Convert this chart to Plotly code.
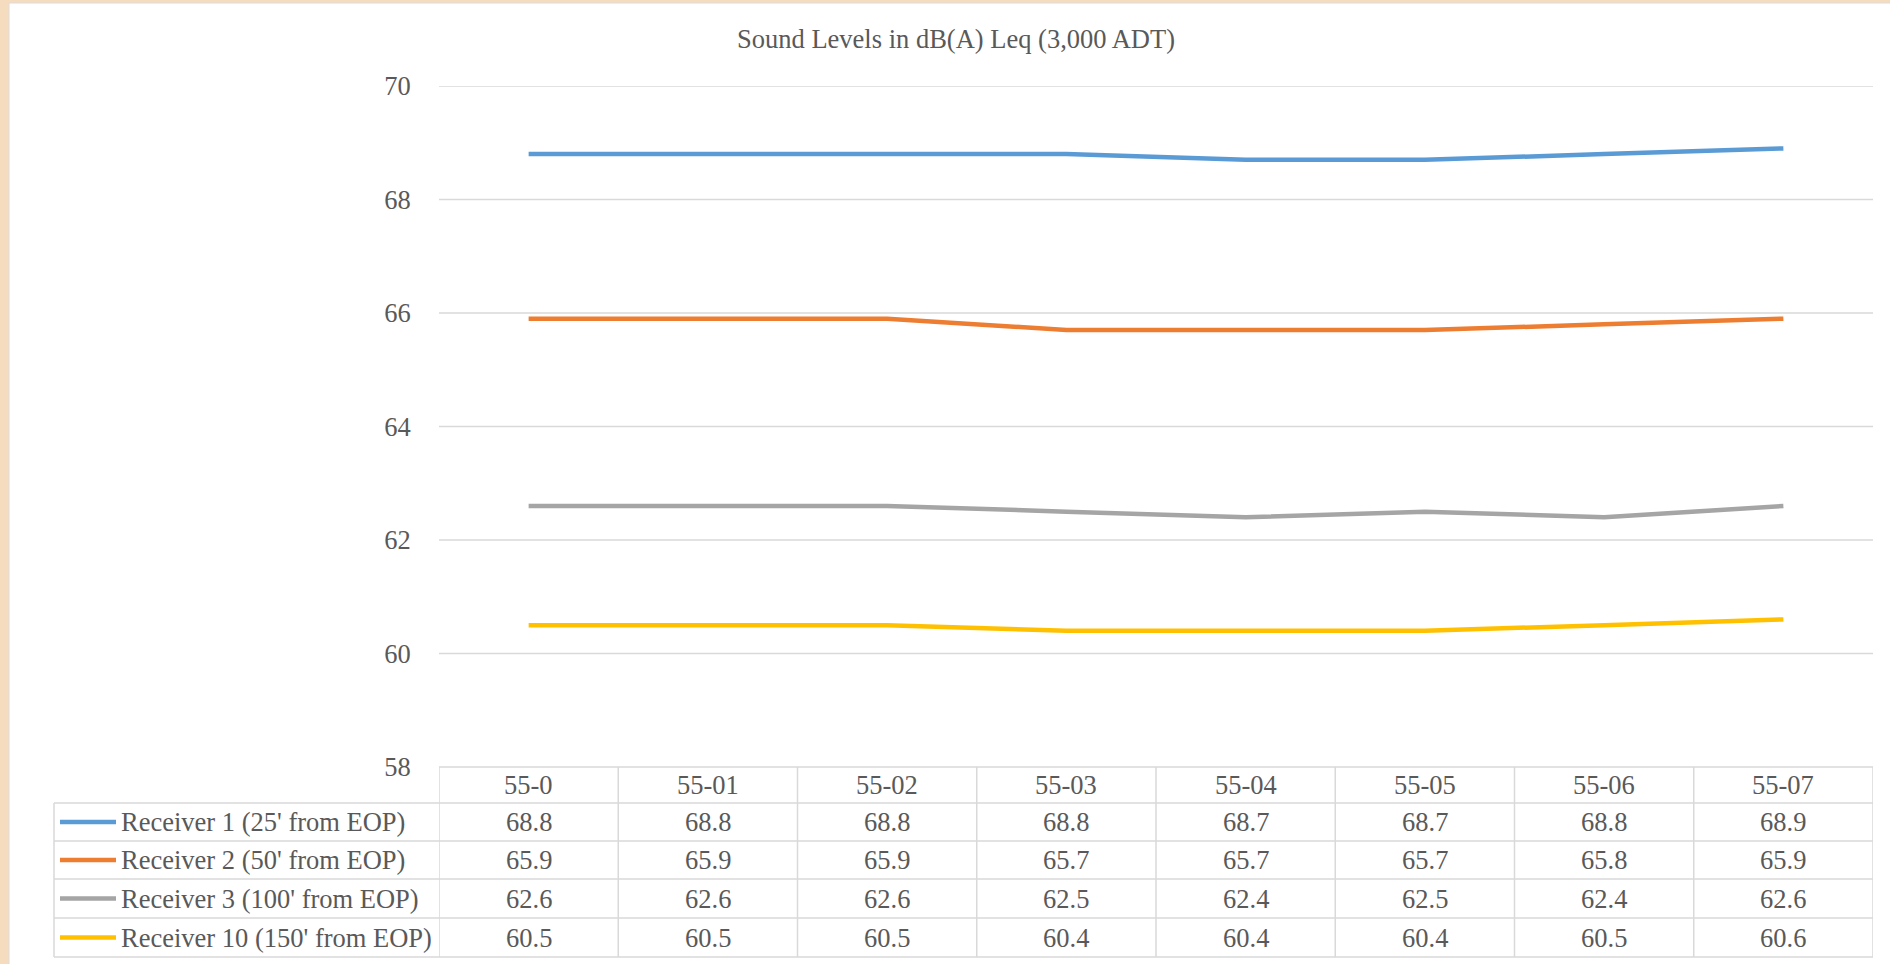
import plotly.graph_objects as go

# ---- data ----
categories = ["55-0", "55-01", "55-02", "55-03", "55-04", "55-05", "55-06", "55-07"]
series_names = [
    "Receiver 1 (25' from EOP)",
    "Receiver 2 (50' from EOP)",
    "Receiver 3 (100' from EOP)",
    "Receiver 10 (150' from EOP)",
]
receiver_1 = [68.8, 68.8, 68.8, 68.8, 68.7, 68.7, 68.8, 68.9]
receiver_2 = [65.9, 65.9, 65.9, 65.7, 65.7, 65.7, 65.8, 65.9]
receiver_3 = [62.6, 62.6, 62.6, 62.5, 62.4, 62.5, 62.4, 62.6]
receiver_10 = [60.5, 60.5, 60.5, 60.4, 60.4, 60.4, 60.5, 60.6]
series_values = [receiver_1, receiver_2, receiver_3, receiver_10]
y_ticks = [58, 60, 62, 64, 66, 68, 70]
title_text = "Sound Levels in dB(A) Leq (3,000 ADT)"

# ---- style ----
colors = ["#5B9BD5", "#ED7D31", "#A5A5A5", "#FFC000"]
W, H = 1890, 964
L, R, T, B = 439, 1873, 86, 767
TXT = "#595959"
GRID = "#D9D9D9"
BEIGE = "#F5DCBE"
FONT = "Liberation Serif, Times New Roman, serif"
FS = 26.5

def px_x(px):
    return (px - L) / (R - L)

def px_y(py):
    return (B - py) / (B - T)

row_lines = [B, 803, 841, 879, 918, 957]
legend_left = 54

fig = go.Figure()
for name, vals, col in zip(series_names, series_values, colors):
    fig.add_trace(go.Scatter(
        x=list(range(len(categories))), y=vals, mode="lines", name=name,
        line=dict(color=col, width=4.5), hoverinfo="skip", showlegend=False,
    ))

shapes = []
# beige page + white panel
shapes.append(dict(type="rect", xref="paper", yref="paper",
                   x0=px_x(9), x1=px_x(W + 5), y0=px_y(3), y1=px_y(H + 5),
                   fillcolor="white", line=dict(color="#DCDCDC", width=1), layer="below"))
# horizontal gridlines on the value axis
for v in y_ticks[1:]:
    shapes.append(dict(type="line", xref="paper", yref="y", x0=0, x1=1, y0=v, y1=v,
                       line=dict(color=GRID, width=1.5), layer="below"))

# horizontal table lines
for i, py in enumerate(row_lines):
    x0 = px_x(L) if i == 0 else px_x(legend_left)
    shapes.append(dict(type="line", xref="paper", yref="paper",
                       x0=x0, x1=px_x(R), y0=px_y(py), y1=px_y(py),
                       line=dict(color=GRID, width=1.5)))
# vertical table lines for data columns
for k in range(len(categories) + 1):
    shapes.append(dict(type="line", xref="x", yref="paper",
                       x0=k - 0.5, x1=k - 0.5, y0=px_y(B), y1=px_y(row_lines[-1]),
                       line=dict(color=GRID, width=1.5)))
# left edge of legend column
shapes.append(dict(type="line", xref="paper", yref="paper",
                   x0=px_x(legend_left), x1=px_x(legend_left),
                   y0=px_y(row_lines[1]), y1=px_y(row_lines[-1]),
                   line=dict(color=GRID, width=1.5)))

annotations = []
# header row
hdr_c = (row_lines[0] + row_lines[1]) / 2
for k, c in enumerate(categories):
    annotations.append(dict(x=k, xref="x", y=px_y(hdr_c), yref="paper", text=c,
                            showarrow=False, font=dict(family=FONT, size=FS, color=TXT),
                            xanchor="center", yanchor="middle"))
# data rows
for r, (name, vals, col) in enumerate(zip(series_names, series_values, colors)):
    yc = (row_lines[r + 1] + row_lines[r + 2]) / 2
    shapes.append(dict(type="line", xref="paper", yref="paper",
                       x0=px_x(60), x1=px_x(116), y0=px_y(yc), y1=px_y(yc),
                       line=dict(color=col, width=4.5)))
    annotations.append(dict(x=px_x(119), xref="paper", y=px_y(yc), yref="paper", text=name,
                            showarrow=False, font=dict(family=FONT, size=FS, color=TXT),
                            xanchor="left", yanchor="middle"))
    for k, v in enumerate(vals):
        annotations.append(dict(x=k, xref="x", y=px_y(yc), yref="paper", text=f"{v:.1f}",
                                showarrow=False, font=dict(family=FONT, size=FS, color=TXT),
                                xanchor="center", yanchor="middle"))

fig.update_layout(
    width=W, height=H,
    margin=dict(l=L, r=W - R, t=T, b=H - B, pad=0),
    paper_bgcolor=BEIGE, plot_bgcolor="white",
    title=dict(text=title_text, x=956 / W, xanchor="center", y=1 - 39 / H, yanchor="middle",
               font=dict(family=FONT, size=FS, color=TXT)),
    xaxis=dict(range=[-0.5, len(categories) - 0.5], showgrid=False, zeroline=False,
               showticklabels=False, showline=False, fixedrange=True),
    yaxis=dict(range=[y_ticks[0], y_ticks[-1]], tickvals=y_ticks, showgrid=False,
               zeroline=False, showline=False, ticks="outside", ticklen=22,
               tickcolor="rgba(0,0,0,0)", tickfont=dict(family=FONT, size=FS, color=TXT),
               fixedrange=True),
    shapes=shapes, annotations=annotations, showlegend=False,
)
fig.write_html(
    "out.html",
    config={"displayModeBar": False},
    post_script="document.body.style.margin='0px';document.body.style.background='%s';"
                "document.body.style.overflow='hidden';" % BEIGE,
)
